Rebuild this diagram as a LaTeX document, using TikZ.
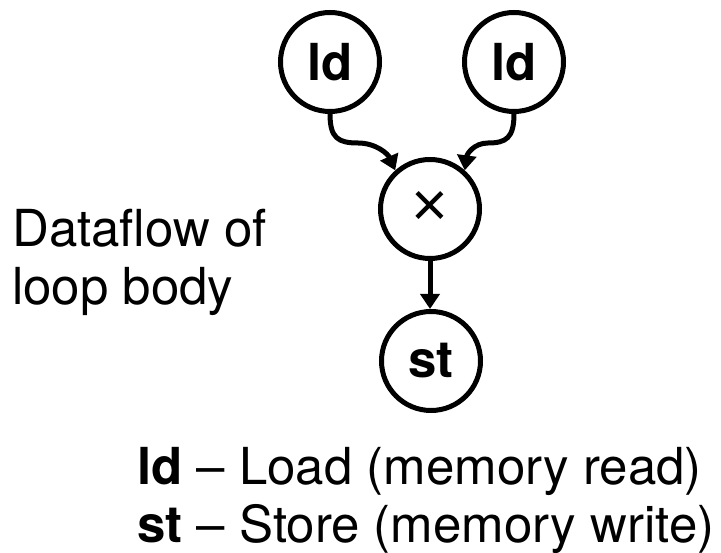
\documentclass[tikz,border=0pt]{standalone}
\usepackage{fontspec}
\setmainfont{TeX Gyre Heros}
\newfontfamily\timesglyph{Liberation Sans}
\usetikzlibrary{arrows.meta}
\begin{document}
\begin{tikzpicture}[x=1pt,y=-1pt,
  opnode/.style={draw,circle,line width=5pt,minimum size=99pt,inner sep=0pt,
    font=\fontsize{51}{58}\selectfont\bfseries},
  flow/.style={line width=5pt,-{Triangle[width=19pt,length=15pt]}},
  txt/.style={anchor=base west,inner sep=0pt,font=\fontsize{51}{58}\selectfont}]
\useasboundingbox (0,0) rectangle (721,553);

% operation nodes
\node[opnode] (ldA) at (330,62) {ld};
\node[opnode] (ldB) at (514,62) {ld};
\node[opnode,font=\timesglyph\fontsize{63}{63}\selectfont] (mul) at (430,209) {\raisebox{-9pt}{×}};
\node[opnode] (st) at (431,361) {st};

% dataflow edges
\draw[flow] (ldA.south) .. controls (330,138) and (338,143) .. (358,143)
  .. controls (376,143) and (388,154) .. (mul.132);
\draw[flow] (ldB.south) .. controls (514,138) and (506,143) .. (488,143)
  .. controls (474,143) and (467,154) .. (mul.48);
\draw[flow] (mul.south) -- (mul.south |- st.north);

% caption
\node[txt] (cap1) at (12,247) {Dataflow of};
\node[txt] (cap2) at (12,305) {loop body};

% legend
\node[txt] (leg1) at (137,485) {\textbf{ld} – Load (memory read)};
\node[txt] (leg2) at (137,543) {\textbf{st} – Store (memory write)};
\end{tikzpicture}
\end{document}
